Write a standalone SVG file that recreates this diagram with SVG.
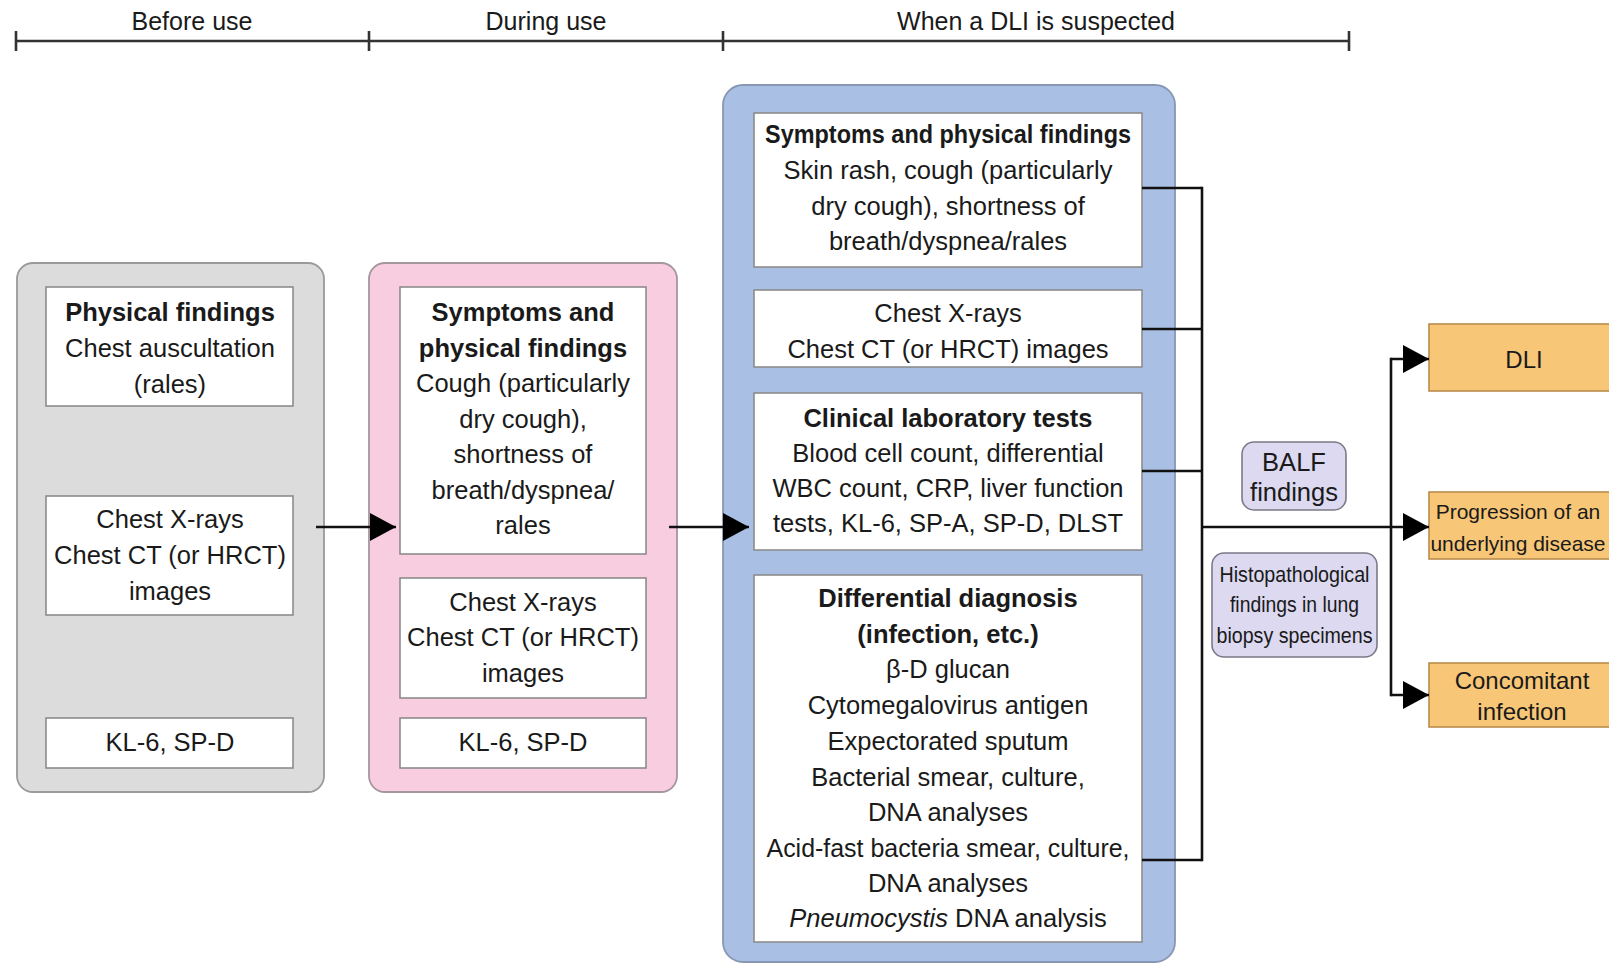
<svg xmlns="http://www.w3.org/2000/svg" width="1609" height="965" viewBox="0 0 1609 965">
<defs>
<style>
text{font-family:"Liberation Sans",Arial,Helvetica,sans-serif;font-size:25.5px;fill:#1a1a1a;text-anchor:middle}
.b{font-weight:bold}
.hd{font-size:25px}
.panel{stroke-width:1.8}
.inner{fill:#ffffff;stroke:#8c8c8c;stroke-width:1.6}
.out{fill:#f8c677;stroke:#b98c4c;stroke-width:1.6}
.lav{fill:#dcd9f0;stroke:#7a7a88;stroke-width:1.6}
.ln{stroke:#111;stroke-width:2.6;fill:none}
.tl{stroke:#333;stroke-width:2.6;fill:none}
.sm{font-size:22.5px}
.or{font-size:24px}
.orn{font-size:21px}
</style>
<marker id="ah" markerUnits="userSpaceOnUse" markerWidth="27" markerHeight="28" refX="26" refY="14" orient="auto" viewBox="0 0 27 28">
<path d="M0,0 L26,14 L0,28 Z" fill="#000"/>
</marker>
</defs>
<rect width="1609" height="965" fill="#ffffff"/>

<g id="timeline">
<line class="tl" x1="16" y1="41" x2="1349" y2="41"/>
<line class="tl" x1="16" y1="31" x2="16" y2="51"/>
<line class="tl" x1="369" y1="31" x2="369" y2="51"/>
<line class="tl" x1="723" y1="31" x2="723" y2="51"/>
<line class="tl" x1="1349" y1="31" x2="1349" y2="51"/>
<text class="hd" x="192" y="30">Before use</text>
<text class="hd" x="546" y="30">During use</text>
<text class="hd" x="1036" y="30">When a DLI is suspected</text>
</g>

<g id="panel-before">
<rect class="panel" x="17" y="263" width="307" height="529" rx="16" fill="#dcdcdc" stroke="#9a9a9a"/>
<g id="before-physical">
<rect class="inner" x="46" y="287" width="247" height="119"/>
<text class="b" x="170" y="321">Physical findings</text>
<text x="170" y="357">Chest auscultation</text>
<text x="170" y="393">(rales)</text>
</g>
<g id="before-imaging">
<rect class="inner" x="46" y="496" width="247" height="119"/>
<text x="170" y="528">Chest X-rays</text>
<text x="170" y="564">Chest CT (or HRCT)</text>
<text x="170" y="600">images</text>
</g>
<g id="before-markers">
<rect class="inner" x="46" y="718" width="247" height="50"/>
<text x="170" y="751">KL-6, SP-D</text>
</g>
</g>

<g id="panel-during">
<rect class="panel" x="369" y="263" width="308" height="529" rx="16" fill="#f9cde0" stroke="#a5959d"/>
<g id="during-symptoms">
<rect class="inner" x="400" y="287" width="246" height="267"/>
<text class="b" x="523" y="321">Symptoms and</text>
<text class="b" x="523" y="356.5">physical findings</text>
<text x="523" y="392">Cough (particularly</text>
<text x="523" y="427.5">dry cough),</text>
<text x="523" y="463">shortness of</text>
<text x="523" y="498.5">breath/dyspnea/</text>
<text x="523" y="534">rales</text>
</g>
<g id="during-imaging">
<rect class="inner" x="400" y="578" width="246" height="120"/>
<text x="523" y="611">Chest X-rays</text>
<text x="523" y="646">Chest CT (or HRCT)</text>
<text x="523" y="682">images</text>
</g>
<g id="during-markers">
<rect class="inner" x="400" y="718" width="246" height="50"/>
<text x="523" y="751">KL-6, SP-D</text>
</g>
</g>

<g id="panel-suspected">
<rect class="panel" x="723" y="85" width="452" height="877" rx="20" fill="#a9c0e4" stroke="#8797b3"/>
<g id="susp-symptoms">
<rect class="inner" x="754" y="113" width="388" height="154"/>
<text class="b" x="948" y="143" textLength="366" lengthAdjust="spacingAndGlyphs">Symptoms and physical findings</text>
<text x="948" y="179">Skin rash, cough (particularly</text>
<text x="948" y="215">dry cough), shortness of</text>
<text x="948" y="250">breath/dyspnea/rales</text>
</g>
<g id="susp-imaging">
<rect class="inner" x="754" y="290" width="388" height="77"/>
<text x="948" y="322">Chest X-rays</text>
<text x="948" y="358">Chest CT (or HRCT) images</text>
</g>
<g id="susp-lab">
<rect class="inner" x="754" y="393" width="388" height="157"/>
<text class="b" x="948" y="427">Clinical laboratory tests</text>
<text x="948" y="462">Blood cell count, differential</text>
<text x="948" y="497">WBC count, CRP, liver function</text>
<text x="948" y="532">tests, KL-6, SP-A, SP-D, DLST</text>
</g>
<g id="susp-differential">
<rect class="inner" x="754" y="575" width="388" height="367"/>
<text class="b" x="948" y="607">Differential diagnosis</text>
<text class="b" x="948" y="643">(infection, etc.)</text>
<text x="948" y="678">β-D glucan</text>
<text x="948" y="714">Cytomegalovirus antigen</text>
<text x="948" y="750">Expectorated sputum</text>
<text x="948" y="786">Bacterial smear, culture,</text>
<text x="948" y="821">DNA analyses</text>
<text x="948" y="857" textLength="363" lengthAdjust="spacingAndGlyphs">Acid-fast bacteria smear, culture,</text>
<text x="948" y="892">DNA analyses</text>
<text x="948" y="927"><tspan font-style="italic">Pneumocystis</tspan> DNA analysis</text>
</g>
</g>

<g id="balf">
<rect class="lav" x="1242" y="442" width="104" height="68" rx="12"/>
<text x="1294" y="471">BALF</text>
<text x="1294" y="501">findings</text>
</g>

<g id="histopath">
<rect class="lav" x="1212" y="553" width="165" height="104" rx="12"/>
<text class="sm" x="1294.5" y="582" textLength="150" lengthAdjust="spacingAndGlyphs">Histopathological</text>
<text class="sm" x="1294.5" y="612" textLength="129" lengthAdjust="spacingAndGlyphs">findings in lung</text>
<text class="sm" x="1294.5" y="643" textLength="156" lengthAdjust="spacingAndGlyphs">biopsy specimens</text>
</g>

<g id="out-dli">
<rect class="out" x="1429" y="324" width="182" height="67"/>
<text class="or" x="1524" y="368">DLI</text>
</g>
<g id="out-progression">
<rect class="out" x="1429" y="492" width="182" height="67"/>
<text class="orn" x="1518" y="519">Progression of an</text>
<text class="orn" x="1518" y="551">underlying disease</text>
</g>
<g id="out-infection">
<rect class="out" x="1429" y="663" width="182" height="64"/>
<text class="or" x="1522" y="689">Concomitant</text>
<text class="or" x="1522" y="720">infection</text>
</g>

<g id="connectors">
<line class="ln" x1="316" y1="527" x2="396" y2="527" marker-end="url(#ah)"/>
<line class="ln" x1="669" y1="527" x2="749" y2="527" marker-end="url(#ah)"/>
<line class="ln" x1="1142" y1="188" x2="1202" y2="188"/>
<line class="ln" x1="1142" y1="329" x2="1202" y2="329"/>
<line class="ln" x1="1142" y1="471" x2="1202" y2="471"/>
<line class="ln" x1="1142" y1="860" x2="1202" y2="860"/>
<line class="ln" x1="1202" y1="186.7" x2="1202" y2="861.3"/>
<line class="ln" x1="1202" y1="527" x2="1429" y2="527" marker-end="url(#ah)"/>
<line class="ln" x1="1391" y1="357.7" x2="1391" y2="696.3"/>
<polyline class="ln" points="1391,359 1429,359" marker-end="url(#ah)"/>
<polyline class="ln" points="1391,695 1429,695" marker-end="url(#ah)"/>
</g>
</svg>
